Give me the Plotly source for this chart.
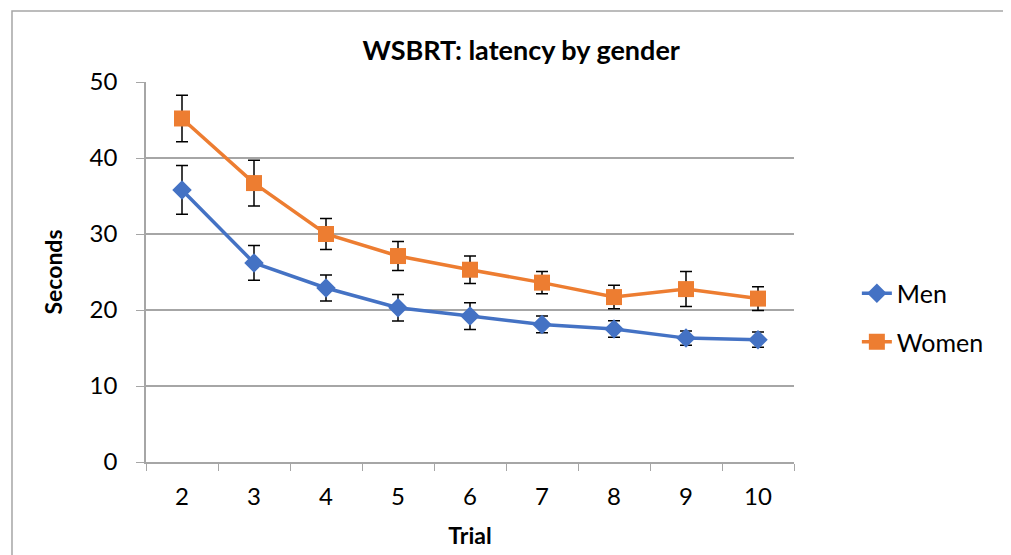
import plotly.graph_objects as go

# data
trials = ["2", "3", "4", "5", "6", "7", "8", "9", "10"]
men = [35.8, 26.2, 22.9, 20.3, 19.2, 18.1, 17.5, 16.3, 16.1]
men_err = [3.2, 2.3, 1.7, 1.75, 1.75, 1.1, 1.1, 0.95, 1.0]
women = [45.2, 36.7, 30.0, 27.1, 25.3, 23.6, 21.7, 22.75, 21.5]
women_err = [3.05, 3.0, 2.05, 1.9, 1.8, 1.45, 1.55, 2.3, 1.55]

FONT = "Lato"
GRID = "#a6a6a6"

fig = go.Figure()

fig.add_trace(go.Scatter(
    x=trials, y=men, name="Men", legendgroup="men",
    mode="lines+markers",
    line=dict(color="#4472C4", width=3.5),
    marker=dict(symbol="diamond", size=15, color="#4472C4"),
    error_y=dict(type="data", array=men_err, color="black", thickness=1.5, width=6),
))
fig.add_trace(go.Scatter(
    x=trials, y=women, name="Women", legendgroup="women",
    mode="lines+markers",
    line=dict(color="#ED7D31", width=3.5),
    marker=dict(symbol="square", size=16, color="#ED7D31"),
    error_y=dict(type="data", array=women_err, color="black", thickness=1.5, width=6),
))

# the page body adds an 8px offset, so margins are pulled in by 8px
fig.update_layout(
    width=1011, height=555,
    margin=dict(l=138, r=225, t=74, b=101, autoexpand=False),
    paper_bgcolor="white", plot_bgcolor="white",
    font=dict(family=FONT, size=24, color="black"),
    title=dict(text="<b>WSBRT: latency by gender</b>", x=0.579, xref="paper",
               y=0.924, yref="container", xanchor="center", yanchor="middle",
               font=dict(size=27)),
    legend=dict(x=1.097, y=0.38, xanchor="left", yanchor="middle",
                font=dict(size=25), tracegroupgap=13, bgcolor="rgba(0,0,0,0)"),
    showlegend=True,
)

fig.update_xaxes(
    type="category", range=[-0.5, len(trials) - 0.5],
    tickson="boundaries", ticks="outside", ticklen=7,
    tickcolor=GRID, showline=True, linecolor=GRID, linewidth=1.5,
    showgrid=False, ticklabelstandoff=12, automargin=False,
    title=dict(text="<b>Trial</b>", standoff=19, font=dict(size=23)),
)
fig.update_yaxes(
    range=[0, 50], dtick=10, ticks="outside", ticklen=8, tickcolor=GRID,
    showline=True, linecolor=GRID, linewidth=1.5,
    showgrid=True, gridcolor=GRID, gridwidth=1.5, zeroline=False,
    ticklabelstandoff=14, automargin=False,
    title=dict(text="<b>Seconds</b>", standoff=21, font=dict(size=23)),
)

# outer chart frame (right and bottom sides run off the picture)
fig.add_shape(type="rect", xref="paper", yref="paper",
              x0=-0.2068, x1=1.3335, y0=-0.35, y1=1.187,
              line=dict(color=GRID, width=1.5), layer="below")

fig.write_html("out.html")
